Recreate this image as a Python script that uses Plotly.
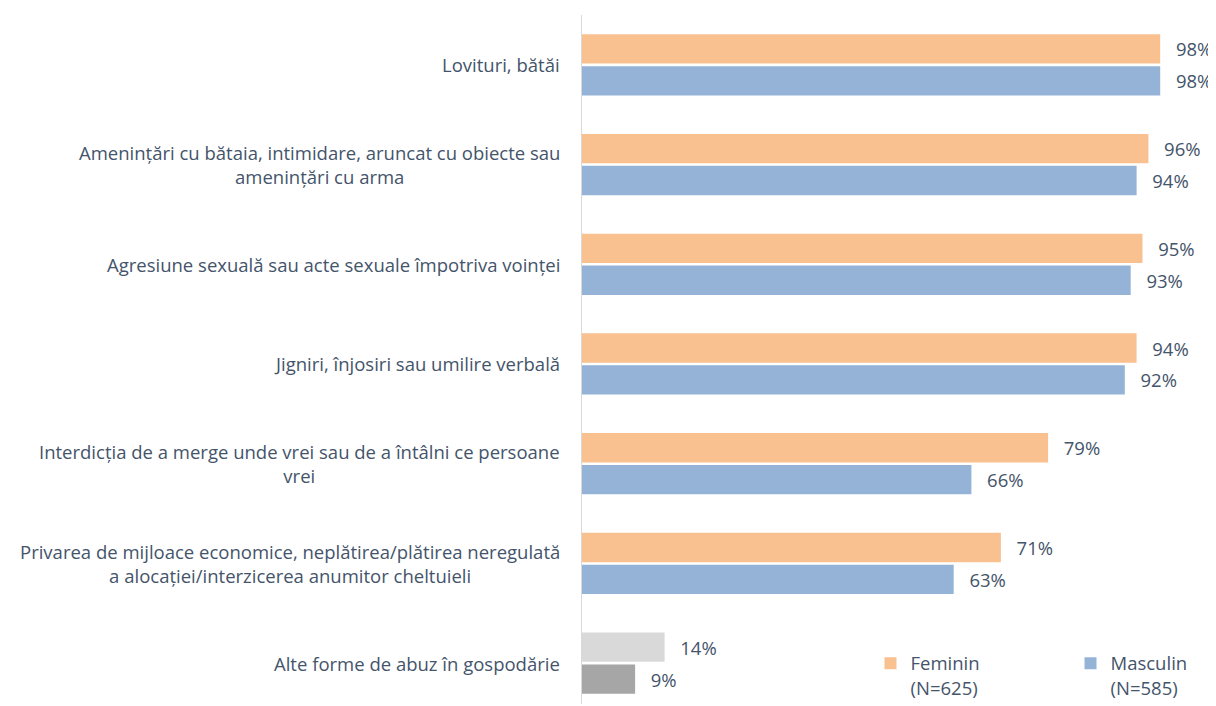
import plotly.graph_objects as go

categories = [
    "Lovituri, bătăi",
    "Amenințări cu bătaia, intimidare, aruncat cu obiecte sau<br>amenințări cu arma",
    "Agresiune sexuală sau acte sexuale împotriva voinței",
    "Jigniri, înjosiri sau umilire verbală",
    "Interdicția de a merge unde vrei sau de a întâlni ce persoane<br>vrei",
    "Privarea de mijloace economice, neplătirea/plătirea neregulată<br>a alocației/interzicerea anumitor cheltuieli",
    "Alte forme de abuz în gospodărie",
]
feminin = [98, 96, 95, 94, 79, 71, 14]
masculin = [98, 94, 93, 92, 66, 63, 9]
series_names = ["Feminin<br>(N=625)", "Masculin<br>(N=585)"]

TEXT = "#44546A"
FONT = "'Open Sans', 'Noto Sans', sans-serif"
SIZE = 18.5
pad = "\u00a0\u00a0\u2009"

fem_colors = ["#F9C190"] * (len(categories) - 1) + ["#D9D9D9"]
mas_colors = ["#95B3D7"] * (len(categories) - 1) + ["#A6A6A6"]

fig = go.Figure()
series = (
    (series_names[0], feminin, fem_colors, "legend"),
    (series_names[1], masculin, mas_colors, "legend2"),
)
for name, values, colors, legend in series:
    fig.add_trace(go.Bar(
        x=values,
        y=categories,
        orientation="h",
        name=name,
        legend=legend,
        showlegend=True,
        marker={"color": colors, "line": {"width": 0}},
        text=[f"{pad}{v}%" for v in values],
        textposition="outside",
        textfont={"size": SIZE, "color": TEXT, "family": FONT},
        cliponaxis=False,
    ))

for cat in categories:
    fig.add_annotation(
        x=0, xref="paper", y=cat, yref="y",
        text=cat, showarrow=False,
        xanchor="right", xshift=-20, align="center",
        font={"size": SIZE, "color": TEXT, "family": FONT},
    )

legend_style = {
    "xanchor": "left",
    "yanchor": "top",
    "valign": "top",
    "font": {"size": SIZE, "color": TEXT, "family": FONT},
    "bgcolor": "rgba(0,0,0,0)",
    "itemwidth": 30,
}

fig.update_layout(
    width=1216,
    height=706,
    showlegend=True,
    paper_bgcolor="white",
    plot_bgcolor="white",
    barmode="group",
    bargap=0.36,
    bargroupgap=0.08,
    margin={"l": 574, "r": 52, "t": 7, "b": 8},
    font={"family": FONT, "color": TEXT, "size": SIZE},
    xaxis={"range": [0, 100], "visible": False},
    yaxis={
        "type": "category",
        "range": [6.41, -0.5],
        "showticklabels": False,
        "showgrid": False,
        "zeroline": False,
        "showline": True,
        "linecolor": "#D9D9D9",
        "linewidth": 1,
        "ticks": "",
    },
    legend={**legend_style, "x": 0.489, "y": 0.086},
    legend2={**legend_style, "x": 0.828, "y": 0.086},
)

fig.write_html("out.html")
